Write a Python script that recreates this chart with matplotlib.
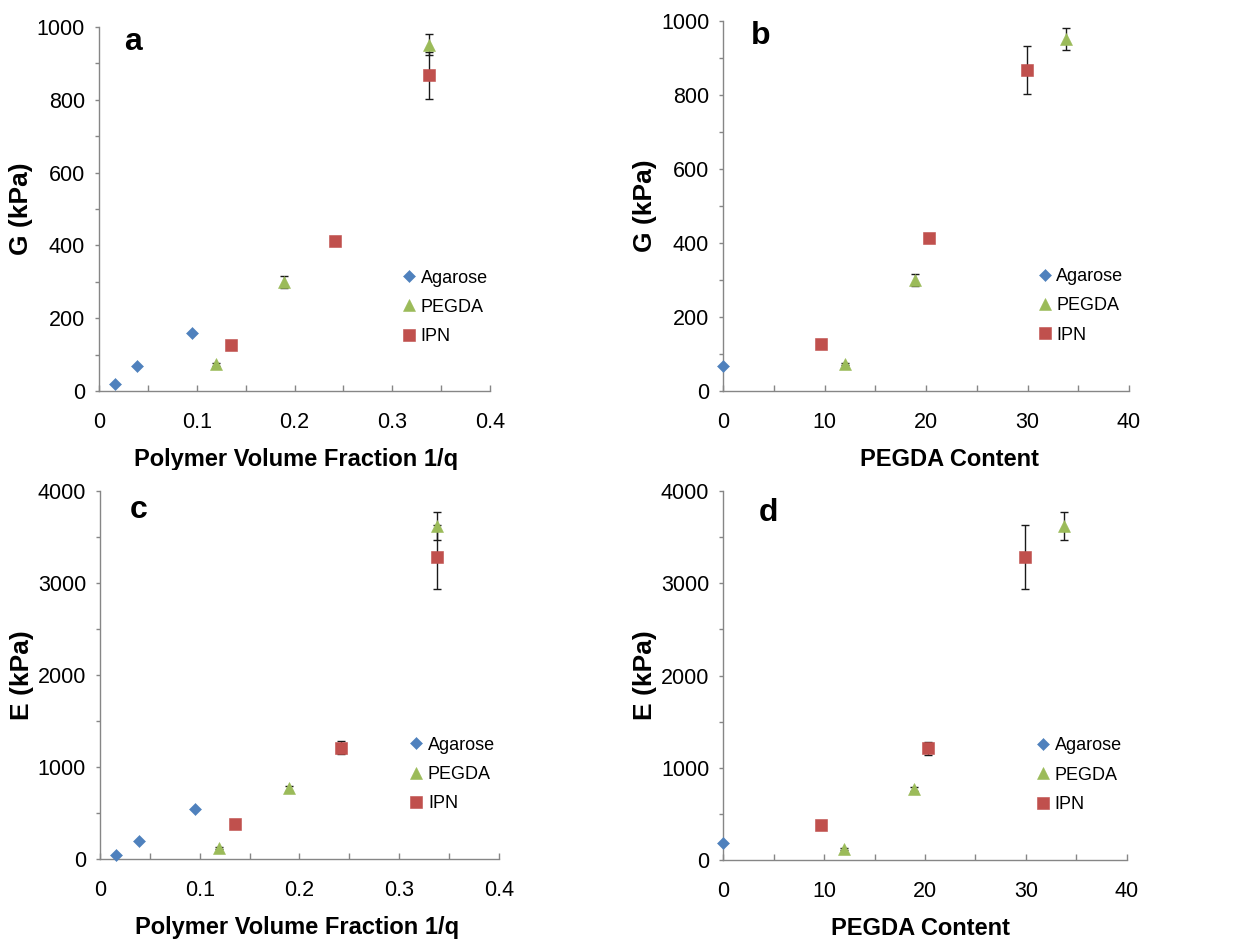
#!/usr/bin/env python3
"""
Shear modulus G and Young's modulus E of agarose, PEGDA and IPN gels,
plotted against polymer volume fraction and against PEGDA content.
"""

import matplotlib
matplotlib.use("Agg")
import matplotlib.pyplot as plt
from matplotlib.ticker import MultipleLocator, FuncFormatter
from matplotlib.transforms import Bbox, TransformedBbox

# polymer volume fraction 1/q
agarose_frac = [0.0164, 0.0390, 0.0955]
pegda_frac = [0.1197, 0.1890, 0.3378]
ipn_frac = [0.1350, 0.2418, 0.3374]

# PEGDA content (only one agarose sample on this axis)
agarose_content = [0]
pegda_content = [12.0, 18.9, 33.8]
ipn_content = [9.7, 20.3, 29.9]

# shear modulus G (kPa)
agarose_G = [20, 68, 158]
agarose_G_content = [68]
pegda_G = [73, 300, 952]
ipn_G = [126, 413, 867]
pegda_G_err = [4, 17, 30]
ipn_G_err = [5, 8, 65]

# Young's modulus E (kPa)
agarose_E = [43, 200, 546]
agarose_E_content = [185]
pegda_E = [117, 768, 3622]
ipn_E = [380, 1210, 3285]
pegda_E_err = [10, 25, 150]
ipn_E_err = [15, 68, 350]

BLUE = "#4F81BD"
GREEN = "#9BBB59"
RED = "#C0504D"
SPINE = "#868686"

plt.rcParams["font.family"] = ["Liberation Sans", "DejaVu Sans"]


def draw_panel(fig, rect, letter, x_sets, y_sets, err_sets, xlim, ylim,
               xstep, ystep, xlabel, ylabel, xlabel_x, letter_pos, clip_xlabel=False):
    """Draw one scatter panel with error bars and legend."""
    ax = fig.add_axes(rect)
    styles = [
        ("Agarose", "D", BLUE, 6.6),
        ("PEGDA", "^", GREEN, 9.0),
        ("IPN", "s", RED, 8.0),
    ]
    for (name, marker, color, size), xs, ys, errs in zip(styles, x_sets, y_sets, err_sets):
        if errs is not None:
            ax.errorbar(xs, ys, yerr=errs, fmt="none", ecolor="#1a1a1a",
                        elinewidth=1.0, capsize=2.6, capthick=1.0, zorder=2)
        ax.plot(xs, ys, ls="none", marker=marker, color=color, markersize=size,
                markeredgecolor=color, markeredgewidth=0.4, label=name,
                zorder=3, clip_on=False)

    ax.set_xlim(*xlim)
    ax.set_ylim(*ylim)
    ax.xaxis.set_major_locator(MultipleLocator(xstep))
    ax.xaxis.set_minor_locator(MultipleLocator(xstep / 2))
    ax.yaxis.set_major_locator(MultipleLocator(ystep))
    ax.yaxis.set_minor_locator(MultipleLocator(ystep / 2))
    ax.xaxis.set_major_formatter(FuncFormatter(lambda v, pos: "%g" % round(v, 6)))
    ax.yaxis.set_major_formatter(FuncFormatter(lambda v, pos: "%g" % round(v, 6)))

    for side in ("top", "right"):
        ax.spines[side].set_visible(False)
    for side in ("left", "bottom"):
        ax.spines[side].set_color(SPINE)
        ax.spines[side].set_linewidth(1.0)

    ax.tick_params(axis="x", which="both", direction="in", length=4,
                   color=SPINE, width=1.0)
    ax.tick_params(axis="x", which="major", labelsize=15.5, pad=15)
    ax.tick_params(axis="y", which="both", direction="out", length=3,
                   color=SPINE, width=1.0)
    ax.tick_params(axis="y", which="major", labelsize=15.5, pad=7)

    ax.set_xlabel(xlabel, fontsize=17, fontweight="bold", labelpad=11)
    ax.set_ylabel(ylabel, fontsize=19, fontweight="bold", labelpad=3)
    ax.xaxis.label.set_x(xlabel_x)

    if clip_xlabel:
        # keep the label inside the upper half of the figure
        box = TransformedBbox(Bbox.from_extents(0, 0.4995, 1, 1), fig.transFigure)
        ax.xaxis.label.set_clip_box(box)
        ax.xaxis.label.set_clip_on(True)

    ax.text(letter_pos[0], letter_pos[1], letter, transform=ax.transAxes,
            fontsize=23, fontweight="bold", ha="center", va="top")

    ax.legend(loc="center left", bbox_to_anchor=(0.772, 0.23), frameon=False,
              fontsize=13, numpoints=1, handlelength=0.9, handletextpad=0.2,
              labelspacing=0.68, borderpad=0, borderaxespad=0)
    return ax


fig = plt.figure(figsize=(12.33, 9.39), dpi=100)

draw_panel(fig, [0.0803, 0.5836, 0.3171, 0.3876], "a",
           [agarose_frac, pegda_frac, ipn_frac],
           [agarose_G, pegda_G, ipn_G],
           [None, pegda_G_err, ipn_G_err],
           (0, 0.4), (0, 1000), 0.1, 200,
           "Polymer Volume Fraction 1/q", "G (kPa)", 0.504, (0.087, 1.0),
           clip_xlabel=True)

draw_panel(fig, [0.5864, 0.5836, 0.3293, 0.394], "b",
           [agarose_content, pegda_content, ipn_content],
           [agarose_G_content, pegda_G, ipn_G],
           [None, pegda_G_err, ipn_G_err],
           (0, 40), (0, 1000), 10, 200,
           "PEGDA Content", "G (kPa)", 0.557, (0.093, 1.0),
           clip_xlabel=True)

draw_panel(fig, [0.0811, 0.0852, 0.3236, 0.3919], "c",
           [agarose_frac, pegda_frac, ipn_frac],
           [agarose_E, pegda_E, ipn_E],
           [None, pegda_E_err, ipn_E_err],
           (0, 0.4), (0, 4000), 0.1, 1000,
           "Polymer Volume Fraction 1/q", "E (kPa)", 0.494, (0.097, 0.99))

draw_panel(fig, [0.5864, 0.0841, 0.3276, 0.393], "d",
           [agarose_content, pegda_content, ipn_content],
           [agarose_E_content, pegda_E, ipn_E],
           [None, pegda_E_err, ipn_E_err],
           (0, 40), (0, 4000), 10, 1000,
           "PEGDA Content", "E (kPa)", 0.488, (0.112, 0.98))

fig.savefig("out.png", dpi=100, facecolor="white")
plt.close(fig)
